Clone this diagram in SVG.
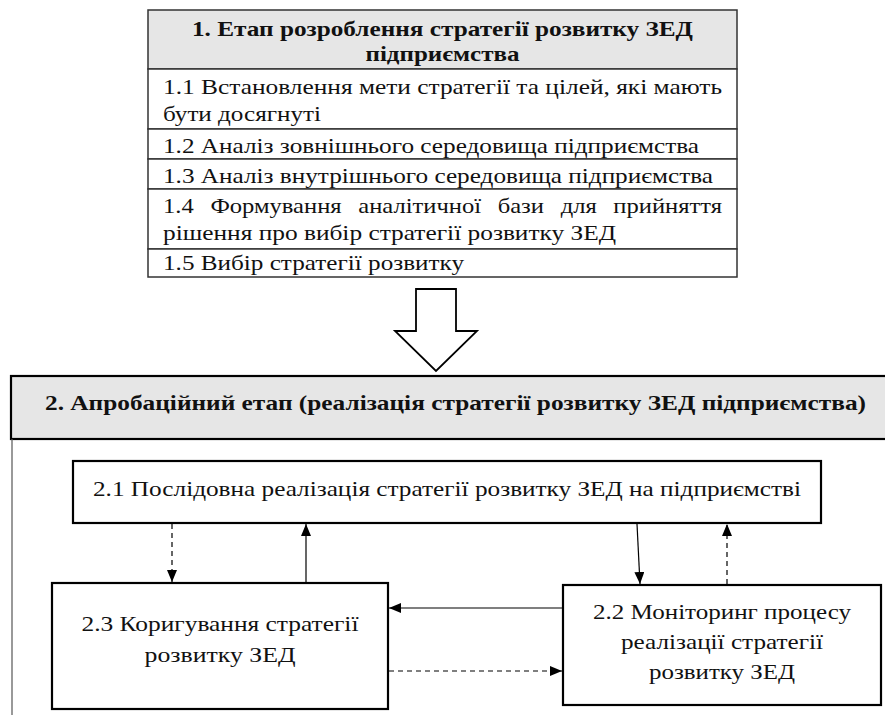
<svg xmlns="http://www.w3.org/2000/svg" width="885" height="715" viewBox="0 0 885 715">
<style>
text{font-family:"Liberation Serif","DejaVu Serif",serif;fill:#111;font-size:21px}
.b{font-weight:bold}
.row{fill:#fff;stroke:#333;stroke-width:1.5}
.hd{fill:#e6e6e6;stroke:#333;stroke-width:1.5}
.box{fill:#fff;stroke:#000;stroke-width:2.2}
.ln{stroke:#000;stroke-width:1.2;fill:none}
.ds{stroke-dasharray:5 4}
</style>
<defs>
<marker id="ah" viewBox="0 0 12 10" refX="12" refY="5" markerWidth="12" markerHeight="10" markerUnits="userSpaceOnUse" orient="auto">
<path d="M0,0 L12,5 L0,10 Z" fill="#000"/>
</marker>
</defs>

<g id="stage1">
<rect class="hd" x="148" y="10" width="589" height="59"/>
<text class="b" x="442.5" y="36" text-anchor="middle" textLength="501" lengthAdjust="spacingAndGlyphs">1. Етап розроблення стратегії розвитку ЗЕД</text>
<text class="b" x="442.5" y="61" text-anchor="middle" textLength="154" lengthAdjust="spacingAndGlyphs">підприємства</text>
<rect class="row" x="148" y="69" width="589" height="60"/>
<text x="163" y="94" textLength="559" lengthAdjust="spacingAndGlyphs">1.1 Встановлення мети стратегії та цілей, які мають</text>
<text x="163" y="121" textLength="158" lengthAdjust="spacingAndGlyphs">бути досягнуті</text>
<rect class="row" x="148" y="129" width="589" height="30"/>
<text x="163" y="153" textLength="536" lengthAdjust="spacingAndGlyphs">1.2 Аналіз зовнішнього середовища підприємства</text>
<rect class="row" x="148" y="159" width="589" height="30"/>
<text x="163" y="183" textLength="550" lengthAdjust="spacingAndGlyphs">1.3 Аналіз внутрішнього середовища підприємства</text>
<rect class="row" x="148" y="189" width="589" height="60"/>
<text x="163" y="213" word-spacing="9" textLength="559" lengthAdjust="spacingAndGlyphs">1.4 Формування аналітичної бази для прийняття</text>
<text x="163" y="240" textLength="453" lengthAdjust="spacingAndGlyphs">рішення про вибір стратегії розвитку ЗЕД</text>
<rect class="row" x="148" y="249" width="589" height="28"/>
<text x="163" y="270" textLength="301" lengthAdjust="spacingAndGlyphs">1.5 Вибір стратегії розвитку</text>
</g>

<g id="bigarrow">
<path d="M416,289 L456,289 L456,331 L477,331 L436,371 L395,331 L416,331 Z" fill="#fff" stroke="#000" stroke-width="1.8"/>
</g>

<g id="stage2">
<rect x="11" y="376" width="880" height="63" fill="#e6e6e6" stroke="#000" stroke-width="2.2"/>
<text class="b" x="45" y="410" font-size="24" textLength="821" lengthAdjust="spacingAndGlyphs">2. Апробаційний етап (реалізація стратегії розвитку ЗЕД підприємства)</text>
<line x1="12" y1="439" x2="12" y2="715" stroke="#555" stroke-width="1.2"/>
</g>

<g id="n21">
<rect class="box" x="73" y="461" width="748" height="62"/>
<text x="447" y="496" text-anchor="middle" textLength="708" lengthAdjust="spacingAndGlyphs">2.1 Послідовна реалізація стратегії розвитку ЗЕД на підприємстві</text>
</g>
<g id="n23">
<rect class="box" x="52" y="583" width="336" height="126"/>
<text x="220" y="631" text-anchor="middle" textLength="277" lengthAdjust="spacingAndGlyphs">2.3 Коригування стратегії</text>
<text x="220" y="662" text-anchor="middle" textLength="151" lengthAdjust="spacingAndGlyphs">розвитку ЗЕД</text>
</g>
<g id="n22">
<rect class="box" x="563" y="585" width="318" height="120"/>
<text x="722" y="619" text-anchor="middle" textLength="258" lengthAdjust="spacingAndGlyphs">2.2 Моніторинг процесу</text>
<text x="722" y="649" text-anchor="middle" textLength="202" lengthAdjust="spacingAndGlyphs">реалізації стратегії</text>
<text x="722" y="679" text-anchor="middle" textLength="146" lengthAdjust="spacingAndGlyphs">розвитку ЗЕД</text>
</g>

<g id="connectors">
<line class="ln ds" x1="172" y1="524" x2="172" y2="582" marker-end="url(#ah)"/>
<line class="ln" x1="306" y1="582" x2="306" y2="524" stroke="#777" marker-end="url(#ah)"/>
<line class="ln" x1="637" y1="524" x2="640" y2="584" marker-end="url(#ah)"/>
<line class="ln ds" x1="727" y1="584" x2="727" y2="524" marker-end="url(#ah)"/>
<line class="ln" x1="562" y1="608" x2="389" y2="608" marker-end="url(#ah)"/>
<line class="ln ds" x1="389" y1="671" x2="562" y2="671" marker-end="url(#ah)"/>
</g>
</svg>
